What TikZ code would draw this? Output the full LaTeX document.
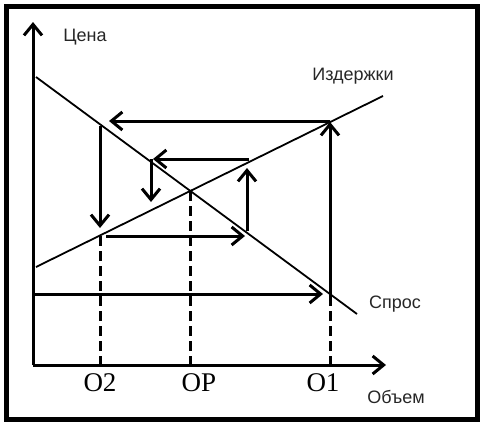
\documentclass[tikz,border=0pt]{standalone}
\usepackage{fontspec}
\setmainfont{Liberation Serif}
\newfontfamily\lsans{Liberation Sans}
\usetikzlibrary{arrows.meta}
\begin{document}
\begin{tikzpicture}[x=1pt,y=-1pt,
  frame/.style={line width=5pt},
  axisline/.style={line width=3pt,-{Straight Barb[length=11pt,width=18pt,line width=3pt]}},
  curve/.style={line width=1.8pt},
  cob/.style={line width=3pt,-{Straight Barb[length=11pt,width=18pt,line width=3pt]}},
  guide/.style={line width=3pt,dash pattern=on 10pt off 5pt},
  lbl/.style={font=\lsans\fontsize{18}{21}\selectfont,inner sep=0pt,text=black!85},
  tick/.style={font=\fontsize{27}{31}\selectfont,inner sep=0pt}
]
\useasboundingbox (0,0) rectangle (483,426);
\draw[frame] (6.5,6.5) rectangle (477.5,419.5);
% axes
\coordinate (O) at (33,365);
\coordinate (ytop) at (33,22);
\coordinate (xend) at (386,365);
\draw[axisline] (O) -- (ytop);
\draw[axisline] (O) -- (xend);
% curves
\coordinate (d1) at (36,77);
\coordinate (d2) at (357,314);
\coordinate (c1) at (36,267);
\coordinate (c2) at (383,96);
\draw[curve] (d1) -- (d2);
\draw[curve] (c1) -- (c2);
% equilibrium and guide lines
\coordinate (E) at (190,191);
\coordinate (Eb) at (190,365);
\coordinate (g2t) at (100,236);
\coordinate (g2b) at (100,365);
\coordinate (g1t) at (330,296);
\coordinate (g1b) at (330,365);
\draw[guide] (E) -- (Eb);
\draw[guide] (g2t) -- (g2b);
\draw[guide] (g1t) -- (g1b);
% cobweb
\coordinate (a0) at (33,294);
\coordinate (a1) at (323,294);
\coordinate (b0) at (330,296);
\coordinate (b1) at (330,122);
\coordinate (c0) at (330,121);
\coordinate (c1b) at (109,121);
\coordinate (e0) at (100,126);
\coordinate (e1) at (100,228);
\coordinate (f0) at (106,236);
\coordinate (f1) at (245,236);
\coordinate (h0) at (247,231);
\coordinate (h1) at (247,168);
\coordinate (k0) at (249,159);
\coordinate (k1) at (153,159);
\coordinate (m0) at (151,159);
\coordinate (m1) at (151,202);
\draw[cob] (a0) -- (a1);
\draw[cob] (b0) -- (b1);
\draw[cob] (c0) -- (c1b);
\draw[cob] (e0) -- (e1);
\draw[cob] (f0) -- (f1);
\draw[cob] (h0) -- (h1);
\draw[cob] (k0) -- (k1);
\draw[cob] (m0) -- (m1);
% labels
\node[lbl] (price) at (85,37) {Цена};
\node[lbl] (cost) at (353,76) {Издержки};
\node[lbl] (dem) at (395,304) {Спрос};
\node[lbl] (vol) at (396,397) {Объем};
\node[tick] (tO2) at (100,383) {O2};
\node[tick] (tOP) at (199,383) {OP};
\node[tick] (tO1) at (323,383) {O1};
\end{tikzpicture}
\end{document}
